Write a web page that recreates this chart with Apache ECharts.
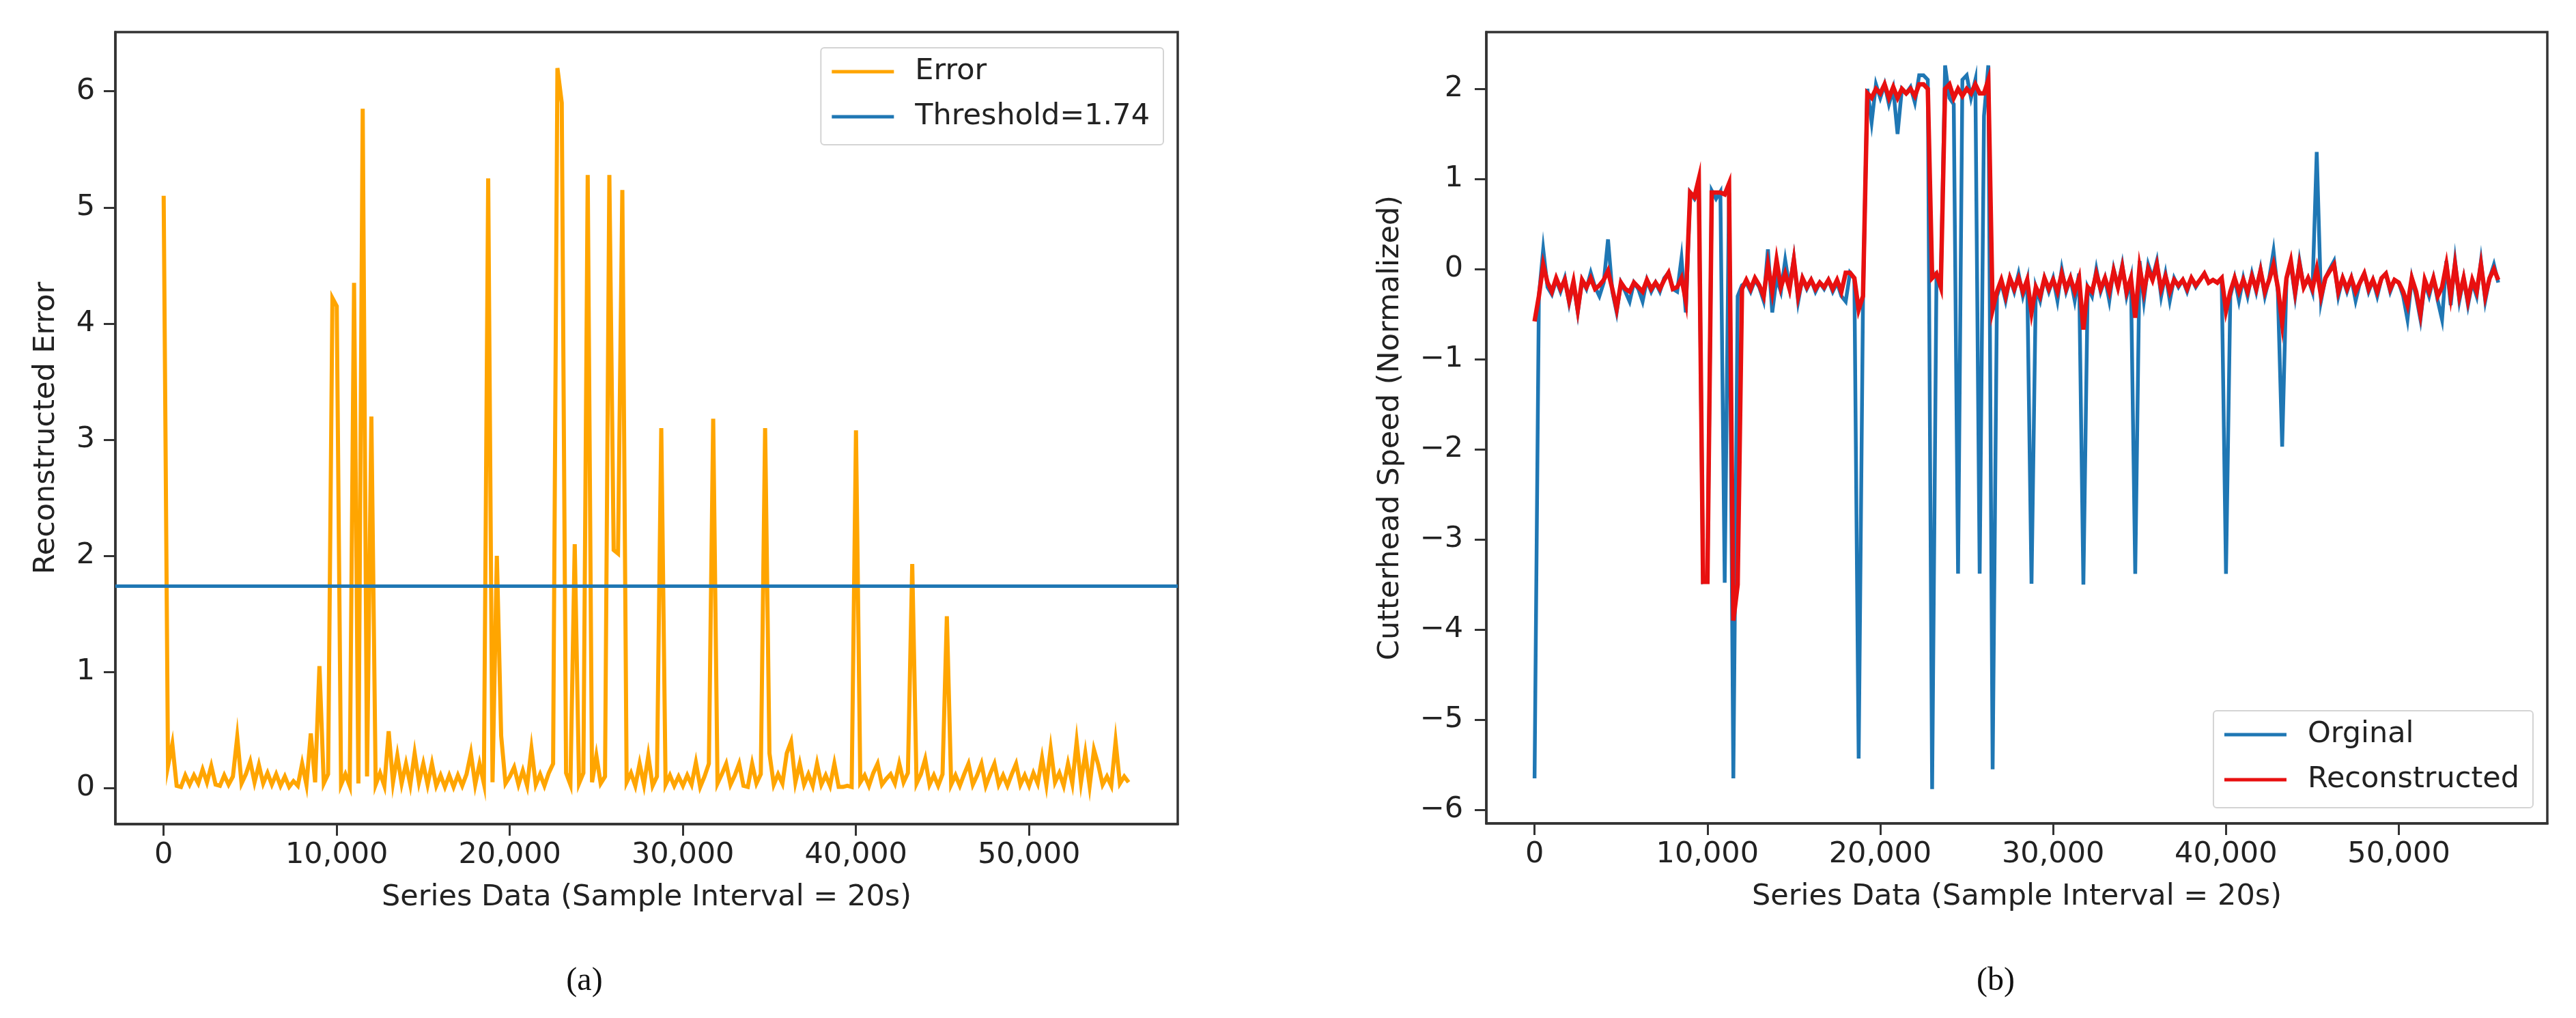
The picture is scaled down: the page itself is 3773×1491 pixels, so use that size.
<!DOCTYPE html>
<html>
<head>
<meta charset="utf-8">
<title>Reconstructed error and cutterhead speed</title>
<script src="https://cdn.jsdelivr.net/npm/echarts@6/dist/echarts.min.js"></script>
<style>
html, body { margin: 0; padding: 0; background: #fff; }
#chart { width: 3773px; height: 1491px; }
</style>
</head>
<body>
<div id="chart"></div>
<script>
// one stored value every 250 samples, rows of 20 values = 5,000 samples
var STEP = 250;

var errorValues = [
	5.1, 0.19, 0.38, 0.02, 0.01, 0.11, 0.03, 0.11, 0.04, 0.16, 0.05, 0.19, 0.03, 0.02, 0.11, 0.03, 0.1, 0.44, 0.04, 0.12,
	0.23, 0.05, 0.2, 0.04, 0.13, 0.03, 0.12, 0.02, 0.1, 0.01, 0.06, 0.02, 0.21, 0.03, 0.47, 0.05, 1.05, 0.04, 0.12, 4.22,
	4.15, 0.03, 0.12, 0.02, 4.35, 0.04, 5.85, 0.1, 3.2, 0.03, 0.13, 0.02, 0.49, 0.05, 0.28, 0.04, 0.21, 0.03, 0.3, 0.05,
	0.21, 0.03, 0.21, 0.02, 0.11, 0.01, 0.11, 0.01, 0.11, 0.02, 0.12, 0.3, 0.03, 0.21, 0.04, 5.25, 0.05, 2.0, 0.45, 0.04,
	0.1, 0.18, 0.03, 0.15, 0.02, 0.34, 0.03, 0.12, 0.02, 0.13, 0.21, 6.2, 5.9, 0.13, 0.03, 2.1, 0.04, 0.13, 5.28, 0.05,
	0.28, 0.04, 0.1, 5.28, 2.05, 2.02, 5.15, 0.05, 0.13, 0.02, 0.21, 0.03, 0.28, 0.02, 0.1, 3.1, 0.03, 0.11, 0.02, 0.1,
	0.02, 0.11, 0.03, 0.22, 0.01, 0.1, 0.21, 3.18, 0.04, 0.12, 0.21, 0.03, 0.11, 0.21, 0.02, 0.01, 0.21, 0.04, 0.12, 3.1,
	0.3, 0.03, 0.12, 0.04, 0.3, 0.4, 0.05, 0.21, 0.03, 0.12, 0.02, 0.21, 0.03, 0.11, 0.02, 0.21, 0.01, 0.01, 0.02, 0.01,
	3.08, 0.05, 0.11, 0.02, 0.13, 0.21, 0.03, 0.08, 0.12, 0.04, 0.21, 0.05, 0.13, 1.93, 0.04, 0.12, 0.25, 0.03, 0.11, 0.02,
	0.12, 1.48, 0.03, 0.11, 0.02, 0.12, 0.21, 0.03, 0.11, 0.21, 0.02, 0.12, 0.21, 0.03, 0.11, 0.02, 0.12, 0.21, 0.03, 0.11,
	0.02, 0.13, 0.04, 0.26, 0.03, 0.34, 0.05, 0.13, 0.02, 0.21, 0.04, 0.4, 0.05, 0.3, 0.02, 0.33, 0.2, 0.03, 0.1, 0.02,
	0.4, 0.04, 0.1, 0.05
];

var originalValues = [
	-5.65, -0.3, 0.22, -0.2, -0.28, -0.12, -0.25, -0.1, -0.38, -0.15, -0.48, -0.12, -0.22, -0.04, -0.2, -0.3, -0.15, 0.33, -0.25, -0.48,
	-0.15, -0.25, -0.36, -0.15, -0.22, -0.36, -0.12, -0.25, -0.15, -0.25, -0.1, -0.04, -0.22, -0.25, 0.12, -0.48, 0.85, 0.78, 0.88, -3.47,
	-3.45, 0.87, 0.78, 0.86, -3.48, 0.85, -5.65, -0.3, -0.18, -0.15, -0.25, -0.12, -0.2, -0.35, 0.22, -0.48, -0.1, -0.25, 0.1, -0.2,
	0.12, -0.36, -0.1, -0.22, -0.12, -0.25, -0.15, -0.22, -0.12, -0.25, -0.15, -0.3, -0.36, -0.04, -0.1, -5.43, -0.35, 2.0, 1.63, 2.05,
	1.9, 2.05, 1.83, 2.0, 1.5, 2.0, 1.95, 2.02, 1.85, 2.15, 2.15, 2.1, -5.77, -0.1, -0.2, 2.26, 1.9, 1.83, -3.38, 2.1,
	2.15, 1.9, 2.1, -3.38, 1.7, 2.26, -5.55, -0.3, -0.15, -0.35, -0.1, -0.25, -0.05, -0.3, -0.12, -3.49, -0.2, -0.35, -0.1, -0.25,
	-0.1, -0.35, 0.0, -0.25, -0.1, -0.35, -0.05, -3.5, -0.2, -0.3, 0.0, -0.25, -0.1, -0.35, 0.0, -0.2, 0.05, -0.3, -0.1, -3.38,
	0.09, -0.35, 0.05, -0.1, 0.09, -0.3, -0.05, -0.35, -0.1, -0.2, -0.12, -0.25, -0.1, -0.2, -0.12, -0.05, -0.15, -0.12, -0.15, -0.1,
	-3.38, -0.3, -0.1, -0.35, -0.1, -0.3, -0.05, -0.25, 0.0, -0.3, -0.1, 0.2, -0.25, -1.97, -0.1, 0.05, -0.3, 0.09, -0.2, -0.1,
	-0.25, 1.3, -0.35, -0.1, 0.0, 0.09, -0.3, -0.1, -0.25, -0.1, -0.35, -0.15, -0.05, -0.25, -0.12, -0.3, -0.1, -0.05, -0.25, -0.12,
	-0.15, -0.3, -0.56, -0.1, -0.3, -0.56, -0.15, -0.3, -0.1, -0.35, -0.56, 0.09, -0.4, 0.09, -0.35, -0.1, -0.4, -0.15, -0.3, 0.09,
	-0.35, -0.1, 0.05, -0.15
];

var reconstructedValues = [
	-0.58, -0.3, 0.05, -0.15, -0.25, -0.1, -0.22, -0.12, -0.35, -0.14, -0.45, -0.12, -0.2, -0.1, -0.22, -0.18, -0.12, -0.02, -0.22, -0.44,
	-0.15, -0.22, -0.25, -0.15, -0.2, -0.25, -0.12, -0.22, -0.15, -0.22, -0.12, -0.04, -0.22, -0.2, -0.1, -0.35, 0.85, 0.8, 1.0, -3.47,
	-3.47, 0.85, 0.85, 0.85, 0.83, 0.95, -3.9, -3.5, -0.22, -0.12, -0.22, -0.1, -0.18, -0.3, 0.05, -0.25, 0.1, -0.2, -0.05, -0.22,
	0.1, -0.3, -0.1, -0.2, -0.12, -0.22, -0.15, -0.2, -0.12, -0.22, -0.12, -0.25, -0.04, -0.04, -0.1, -0.45, -0.3, 1.95, 1.9, 2.0,
	1.95, 2.05, 1.9, 2.02, 1.9, 2.0, 1.95, 2.0, 1.92, 2.05, 2.05, 2.0, -0.1, -0.05, -0.2, 2.0, 2.05, 1.9, 2.0, 1.92,
	2.0, 1.95, 2.05, 1.95, 1.95, 2.1, -0.45, -0.25, -0.12, -0.3, -0.1, -0.22, -0.1, -0.25, -0.12, -0.48, -0.2, -0.3, -0.1, -0.22,
	-0.12, -0.25, -0.05, -0.22, -0.1, -0.25, -0.1, -0.67, -0.2, -0.25, -0.05, -0.22, -0.1, -0.25, -0.02, -0.2, 0.02, -0.25, -0.1, -0.54,
	0.02, -0.25, 0.0, -0.12, 0.05, -0.22, -0.08, -0.25, -0.12, -0.18, -0.12, -0.22, -0.1, -0.18, -0.12, -0.05, -0.15, -0.12, -0.15, -0.1,
	-0.46, -0.25, -0.1, -0.25, -0.12, -0.25, -0.08, -0.22, -0.02, -0.25, -0.12, 0.05, -0.2, -0.6, -0.1, 0.09, -0.25, 0.05, -0.2, -0.1,
	-0.22, 0.0, -0.3, -0.1, -0.02, 0.05, -0.25, -0.1, -0.22, -0.1, -0.25, -0.15, -0.05, -0.22, -0.12, -0.25, -0.1, -0.05, -0.22, -0.12,
	-0.15, -0.25, -0.4, -0.1, -0.25, -0.5, -0.12, -0.25, -0.1, -0.3, -0.2, 0.05, -0.3, 0.05, -0.3, -0.1, -0.35, -0.12, -0.25, 0.05,
	-0.3, -0.1, 0.0, -0.12
];

var threshold = 1.74;
var xTicks = [0, 10000, 20000, 30000, 40000, 50000];
var errorTicks = [0, 1, 2, 3, 4, 5, 6];
var speedTicks = [-6, -5, -4, -3, -2, -1, 0, 1, 2];

var FONT = 'DejaVu Sans';
var INK = '#222';
var FRAME = '#333';

function toPoints(values) {
	var pts = [];
	for (var i = 0; i < values.length; i++) {
		pts.push([i * STEP, values[i]]);
	}
	return pts;
}

function tickText(v) {
	if (v < 0) return '\u2212' + Math.abs(v);
	return v.toLocaleString('en-US');
}

function xAxisFor(grid) {
	return {
		gridIndex : grid,
		type : 'value',
		min : -2790,
		max : 58590,
		name : 'Series Data (Sample Interval = 20s)',
		nameLocation : 'middle',
		nameGap : 86,
		nameTextStyle : { fontFamily : FONT, fontSize : 43, color : INK },
		axisLine : { show : true, onZero : false, lineStyle : { color : FRAME, width : 3.5 } },
		axisTick : { show : true, length : 17, customValues : xTicks, lineStyle : { color : FRAME, width : 3 } },
		axisLabel : { customValues : xTicks, margin : 24, fontFamily : FONT, fontSize : 43, color : INK, formatter : tickText },
		splitLine : { show : false }
	};
}

function yAxisFor(grid, min, max, ticks, name, gap, margin) {
	return {
		gridIndex : grid,
		type : 'value',
		min : min,
		max : max,
		name : name,
		nameLocation : 'middle',
		nameGap : gap,
		nameTextStyle : { fontFamily : FONT, fontSize : 43, color : INK },
		axisLine : { show : true, onZero : false, lineStyle : { color : FRAME, width : 3.5 } },
		axisTick : { show : true, length : 17, customValues : ticks, lineStyle : { color : FRAME, width : 3 } },
		axisLabel : { customValues : ticks, margin : margin, fontFamily : FONT, fontSize : 43, color : INK, formatter : tickText },
		splitLine : { show : false }
	};
}

function legendAt(names, right, top) {
	return {
		data : names,
		orient : 'vertical',
		right : right,
		top : top,
		icon : 'rect',
		itemWidth : 91,
		itemHeight : 5,
		itemGap : 16,
		padding : [ 10, 20, 16, 16 ],
		backgroundColor : '#fff',
		borderColor : '#d4d4d4',
		borderWidth : 2,
		borderRadius : 5,
		selectedMode : false,
		textStyle : { fontFamily : FONT, fontSize : 43, color : INK, lineHeight : 50, padding : [ 0, 0, 0, 26 ] }
	};
}

function lineSeries(name, x, y, values, color, width, z) {
	return {
		name : name,
		type : 'line',
		xAxisIndex : x,
		yAxisIndex : y,
		data : toPoints(values),
		symbol : 'none',
		showSymbol : false,
		sampling : false,
		z : z,
		lineStyle : { color : color, width : width, join : 'miter' },
		itemStyle : { color : color },
		emphasis : { disabled : true }
	};
}

var myChart = echarts.init(document.getElementById('chart'));
var option = {
	animation : false,
	backgroundColor : '#fff',
	grid : [
		{ left : 169, top : 47, width : 1556, height : 1160, show : true, borderColor : FRAME, borderWidth : 3.5, backgroundColor : 'transparent' },
		{ left : 2177, top : 47, width : 1554, height : 1159, show : true, borderColor : FRAME, borderWidth : 3.5, backgroundColor : 'transparent' }
	],
	xAxis : [ xAxisFor(0), xAxisFor(1) ],
	yAxis : [
		yAxisFor(0, -0.31, 6.51, errorTicks, 'Reconstructed Error', 80, 30),
		yAxisFor(1, -6.15, 2.63, speedTicks, 'Cutterhead Speed (Normalized)', 119, 34)
	],
	legend : [
		legendAt([ 'Error', 'Threshold=1.74' ], 2069, 70),
		legendAt([ 'Orginal', 'Reconstructed' ], 63, 1041)
	],
	series : [
		lineSeries('Error', 0, 0, errorValues, '#ffa500', 6, 2),
		{
			name : 'Threshold=1.74',
			type : 'line',
			xAxisIndex : 0,
			yAxisIndex : 0,
			data : [],
			z : 3,
			lineStyle : { color : '#1f77b4', width : 5 },
			itemStyle : { color : '#1f77b4' },
			markLine : {
				silent : true,
				symbol : [ 'none', 'none' ],
				label : { show : false },
				lineStyle : { color : '#1f77b4', width : 5, type : 'solid' },
				data : [ { yAxis : threshold } ]
			}
		},
		lineSeries('Orginal', 1, 1, originalValues, '#1f77b4', 5.5, 2),
		lineSeries('Reconstructed', 1, 1, reconstructedValues, '#e81010', 6.5, 3)
	],
	graphic : [
		{ type : 'text', x : 856, y : 1437, style : { text : '(a)', font : '48px "Liberation Serif"', fill : '#111', align : 'center', verticalAlign : 'middle' } },
		{ type : 'text', x : 2923, y : 1437, style : { text : '(b)', font : '48px "Liberation Serif"', fill : '#111', align : 'center', verticalAlign : 'middle' } }
	]
};
myChart.setOption(option);
</script>
</body>
</html>
